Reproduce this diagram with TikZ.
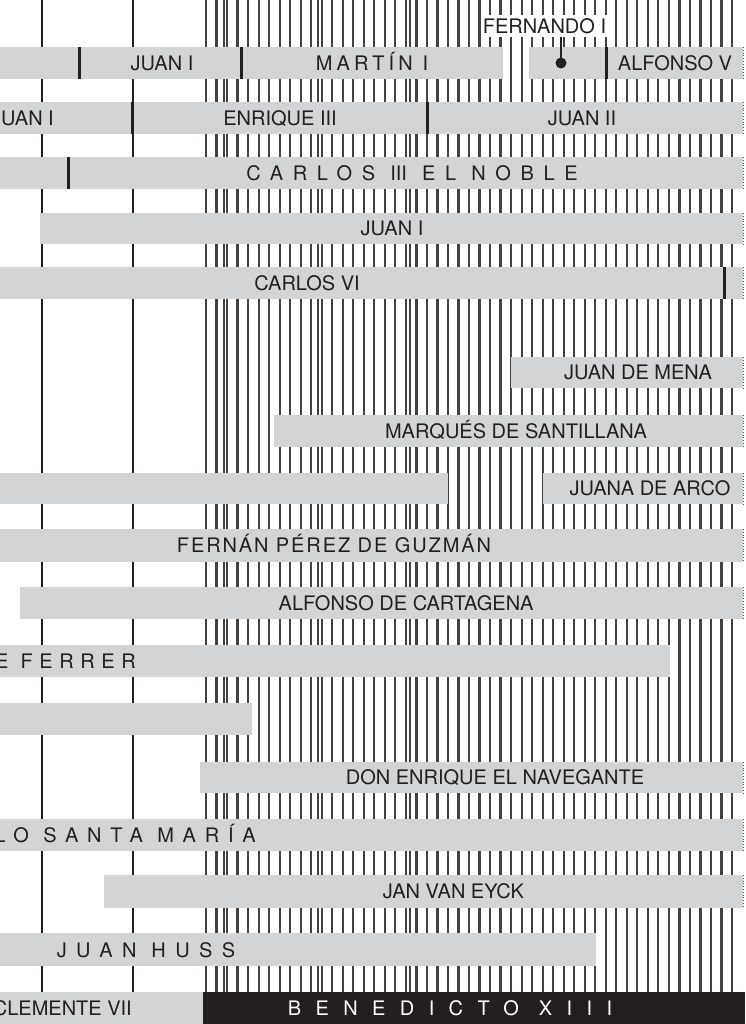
\documentclass[tikz,border=0pt]{standalone}
\usepackage{fontspec}
\setmainfont{TeX Gyre Heros}
\usetikzlibrary{positioning}
\definecolor{barGray}{RGB}{211, 212, 214}
\definecolor{inkDark}{RGB}{35, 31, 32}

\begin{document}
\begin{tikzpicture}[
        x=1pt, y=-1pt,
        hatchLine/.style={draw=inkDark!85, line width=2.2pt},
        yearLine/.style={draw=inkDark, line width=1.3pt},
        reignTick/.style={draw=inkDark, line width=3pt},
        edgeDots/.style={draw=inkDark!80, dotted, line width=0.8pt},
        nameText/.style={font=\fontsize{20}{24}\selectfont, text=inkDark, inner sep=0pt, text height=14.4pt, text depth=0pt},
        wideText/.style={nameText, font=\fontsize{20}{24}\selectfont\addfontfeatures{LetterSpace=#1}}
    ]
        \useasboundingbox (0,0) rectangle (745,1024);
        \clip (0,0) rectangle (745,1024);

        % rayado de los años
        \foreach \k in {0,...,50}
            \draw[hatchLine] ({206+10.52*\k},0) -- ({206+10.52*\k},992);
        \foreach \xx in {224,318,410,690}
            \draw[hatchLine] (\xx,0) -- (\xx,992);
        \foreach \xx in {42,133}
            \draw[yearLine] (\xx,0) -- (\xx,992);

        % barras
        \fill[barGray] (0,47) rectangle (503,79);
        \fill[barGray] (529,47) rectangle (743,79);
        \fill[barGray] (0,102) rectangle (743,134);
        \fill[barGray] (0,157) rectangle (743,189);
        \fill[barGray] (40,213) rectangle (743,244);
        \fill[barGray] (0,267) rectangle (743,299);
        \fill[barGray] (511,357) rectangle (743,388);
        \fill[barGray] (274,415) rectangle (743,447);
        \fill[barGray] (0,473) rectangle (448,504);
        \fill[barGray] (543,473) rectangle (743,504);
        \fill[barGray] (0,529) rectangle (743,562);
        \fill[barGray] (20,587) rectangle (743,619);
        \fill[barGray] (0,645) rectangle (670,677);
        \fill[barGray] (0,703) rectangle (252,735);
        \fill[barGray] (200,762) rectangle (743,793);
        \fill[barGray] (0,819) rectangle (743,851);
        \fill[barGray] (104,875) rectangle (743,908);
        \fill[barGray] (0,933) rectangle (596,966);
        \fill[barGray] (0,992) rectangle (203,1024);
        \fill[inkDark] (203,992) rectangle (745,1024);

        \draw[reignTick] (79,47) -- (79,79);
        \draw[reignTick] (241,47) -- (241,79);
        \draw[reignTick] (606,47) -- (606,79);
        \draw[reignTick] (132,102) -- (132,134);
        \draw[reignTick] (427,102) -- (427,134);
        \draw[reignTick] (68,157) -- (68,189);
        \draw[reignTick] (724,267) -- (724,299);

        \foreach \ya/\yb in {47/79,102/134,157/189,213/244,267/299,357/388,415/447,473/504,529/562,587/619,762/793,819/851,875/908}
            \draw[edgeDots] (743,\ya) -- (743,\yb);

        % nombres
        \node[nameText] (juanArUno) at (162,63) {JUAN I};
        \node[wideText=21] (martin) at (372,63) {MARTÍN I};
        \node[nameText] (alfonsoV) at (675,63) {ALFONSO V};
        \node[nameText, anchor=east] (juanCaUno) at (54,118) {JUAN I};
        \node[nameText] (enrique) at (280,118) {ENRIQUE III};
        \node[nameText] (juanCaDos) at (582,118) {JUAN II};
        \node[wideText=48] (carlosNoble) at (412,173) {CARLOS {\normalfont III} EL NOBLE};
        \node[nameText] (juanPoUno) at (392,228.5) {JUAN I};
        \node[nameText] (carlosVI) at (307,283) {CARLOS VI};
        \node[nameText] (mena) at (638,372.5) {JUAN DE MENA};
        \node[nameText] (santillana) at (516,431) {MARQUÉS DE SANTILLANA};
        \node[nameText] (juana) at (650,488.5) {JUANA DE ARCO};
        \node[wideText=9.5] (guzman) at (334,545.5) {FERNÁN PÉREZ DE GUZMÁN};
        \node[nameText] (cartagena) at (406,603) {ALFONSO DE CARTAGENA};
        \node[wideText=33, anchor=east] (ferrer) at (136,661) {SAN VICENTE FERRER};
        \node[nameText] (navegante) at (495,777.5) {DON ENRIQUE EL NAVEGANTE};
        \node[wideText=44, anchor=east] (pablo) at (256,835) {PABLO SANTA MARÍA};
        \node[nameText] (eyck) at (453.5,891.5) {JAN VAN EYCK};
        \node[wideText=47] (huss) at (146,950) {JUAN HUSS};
        \node[nameText, anchor=east] (clemente) at (132,1008) {CLEMENTE VII};
        \node[wideText=72, text=white] (benedicto) at (450,1008) {BENEDICTO XIII};

        % Fernando I
        \node[nameText, fill=white, inner xsep=1.5pt, inner ysep=3.8pt] (fernLabel) at (544.5,26) {FERNANDO I};
        \node[circle, fill=inkDark, minimum size=11pt, inner sep=0pt] (fernDot) at (561,63) {};
        \draw[inkDark, line width=1.8pt] (fernLabel.south -| fernDot.center) -- (fernDot.center);
    \end{tikzpicture}
\end{document}
